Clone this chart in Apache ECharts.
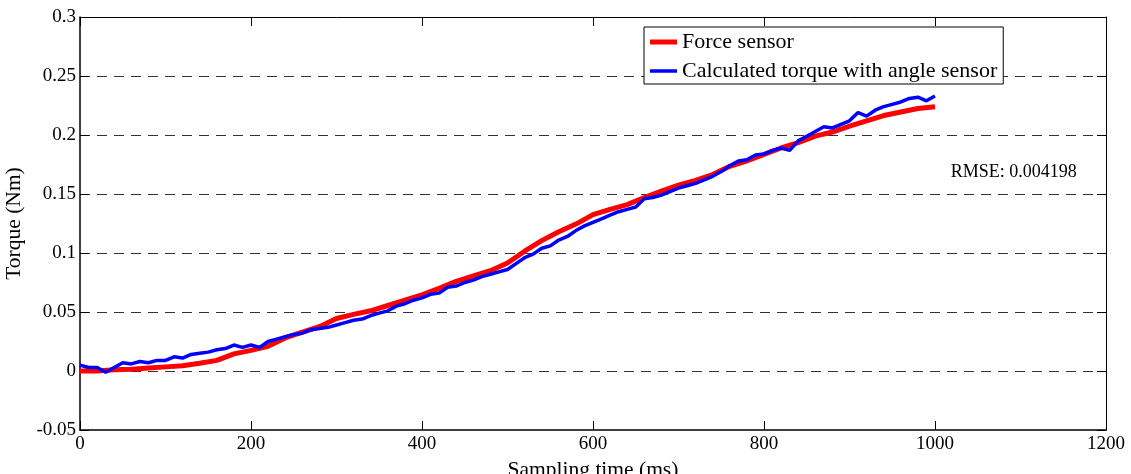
<!DOCTYPE html>
<html>
<head>
<meta charset="utf-8">
<script src="https://cdn.jsdelivr.net/npm/echarts@6/dist/echarts.min.js"></script>
<style>html,body{margin:0;padding:0;background:#fff}#c{width:1131px;height:474px}</style>
</head>
<body>
<div id="c"></div>
<script>
// ---- data ----
const forceTime = [0,20,40,60,80,100,120,140,160,180,200,220,240,260,280,300,320,340,360,380,400,420,440,460,480,500,520,540,560,580,600,620,640,660,680,700,720,740,760,780,800,820,840,860,880,900,920,940,960,980,1000];
const forceTorque = [0.000,0.000,0.001,0.0015,0.0025,0.0035,0.0045,0.0065,0.009,0.0145,0.0175,0.021,0.028,0.033,0.0375,0.0445,0.048,0.051,0.0555,0.060,0.0645,0.070,0.076,0.0805,0.085,0.0915,0.1015,0.1105,0.118,0.1245,0.1325,0.137,0.141,0.147,0.1525,0.1575,0.1615,0.1665,0.1735,0.178,0.1835,0.189,0.1935,0.199,0.2025,0.2075,0.212,0.2165,0.2195,0.2225,0.224];
const angleTime = [0,10,20,30,40,50,60,70,80,90,100,110,120,130,140,150,160,170,180,190,200,210,220,230,240,250,260,270,280,290,300,310,320,330,340,350,360,370,380,390,400,410,420,430,440,450,460,470,480,490,500,510,520,530,540,550,560,570,580,590,600,610,620,630,640,650,660,670,680,690,700,710,720,730,740,750,760,770,780,790,800,810,820,830,840,850,860,870,880,890,900,910,920,930,940,950,960,970,980,990,1000];
const angleTorque = [0.005,0.003,0.003,-0.001,0.003,0.007,0.006,0.008,0.007,0.009,0.009,0.012,0.011,0.014,0.015,0.016,0.018,0.019,0.022,0.020,0.022,0.020,0.025,0.027,0.029,0.031,0.032,0.035,0.036,0.037,0.039,0.041,0.043,0.044,0.047,0.049,0.051,0.055,0.057,0.060,0.062,0.065,0.066,0.071,0.072,0.075,0.077,0.080,0.082,0.084,0.086,0.091,0.096,0.099,0.104,0.106,0.111,0.114,0.119,0.123,0.126,0.129,0.132,0.135,0.137,0.139,0.146,0.147,0.149,0.152,0.155,0.157,0.159,0.162,0.165,0.169,0.174,0.178,0.179,0.183,0.184,0.187,0.189,0.187,0.195,0.199,0.203,0.207,0.206,0.209,0.212,0.219,0.216,0.221,0.224,0.226,0.228,0.231,0.232,0.229,0.233];
const xTicks = [0,200,400,600,800,1000,1200];
const yTicks = [-0.05,0,0.05,0.1,0.15,0.2,0.25,0.3];
const seriesNames = ['Force sensor','Calculated torque with angle sensor'];
const rmseText = 'RMSE: 0.004198';
const rmseAt = [1092, 0.168];

const FONT = "'Liberation Serif','Times New Roman',serif";
const pair = (xs, ys) => xs.map((x, i) => [x, ys[i]]);
const chart = echarts.init(document.getElementById('c'), null, {renderer:'canvas'});

const baseAxisX = {
  type:'value', min:xTicks[0], max:xTicks[xTicks.length-1], interval:xTicks[1]-xTicks[0],
  axisTick:{show:true, inside:true, length:9, lineStyle:{color:'#000', width:1}},
  splitLine:{show:false}
};
const baseAxisY = {
  type:'value', min:yTicks[0], max:yTicks[yTicks.length-1], interval:0.05,
  axisTick:{show:true, inside:true, length:9, lineStyle:{color:'#000', width:1}}
};

chart.setOption({
  animation:false,
  backgroundColor:'#fff',
  grid:{left:80, right:25, top:17, bottom:44, containLabel:false, outerBoundsMode:'none'},
  legend:{
    orient:'vertical', left:644, top:27,
    backgroundColor:'#fff', borderColor:'#000', borderWidth:1, borderRadius:0,
    padding:[4,6,2,6], itemGap:7, itemWidth:27, itemHeight:14,
    textStyle:{fontFamily:FONT, fontSize:22, color:'#000'},
    data:[
      {name:seriesNames[0], icon:'path://M0,0 L27,0 L27,5 L0,5 Z', itemStyle:{color:'#ff0000'}},
      {name:seriesNames[1], icon:'path://M0,0 L27,0 L27,3.5 L0,3.5 Z', itemStyle:{color:'#0000ff'}}
    ]
  },
  xAxis:[
    Object.assign({}, baseAxisX, {
      position:'bottom', name:'Sampling time (ms)', nameLocation:'middle', nameGap:21,
      nameTextStyle:{fontFamily:FONT, fontSize:21.5, color:'#000'},
      axisLine:{show:true, onZero:false, lineStyle:{color:'#000', width:1.5}},
      axisLabel:{fontFamily:FONT, fontSize:19, color:'#000', margin:5, formatter:v => String(v)}
    }),
    Object.assign({}, baseAxisX, {
      position:'top',
      axisLine:{show:true, onZero:false, lineStyle:{color:'#000', width:1}},
      axisLabel:{show:false}
    })
  ],
  yAxis:[
    Object.assign({}, baseAxisY, {
      position:'left', name:'Torque (Nm)', nameLocation:'middle', nameGap:48,
      nameTextStyle:{fontFamily:FONT, fontSize:21.5, color:'#000'},
      axisLine:{show:true, onZero:false, lineStyle:{color:'#000', width:1.5}},
      axisLabel:{fontFamily:FONT, fontSize:19, color:'#000', margin:4,
        formatter:v => String(parseFloat(v.toFixed(2)))},
      splitLine:{show:true, showMinLine:false, showMaxLine:false,
        lineStyle:{color:'#333', width:1, type:[10,7]}}
    }),
    Object.assign({}, baseAxisY, {
      position:'right',
      axisLine:{show:true, onZero:false, lineStyle:{color:'#000', width:1}},
      axisLabel:{show:false}, splitLine:{show:false}
    })
  ],
  series:[
    {
      name:seriesNames[0], type:'line', xAxisIndex:0, yAxisIndex:0,
      data:pair(forceTime, forceTorque), showSymbol:false, symbol:'none',
      lineStyle:{color:'#ff0000', width:5}, itemStyle:{color:'#ff0000'}, z:2
    },
    {
      name:seriesNames[1], type:'line', xAxisIndex:0, yAxisIndex:0,
      data:pair(angleTime, angleTorque), showSymbol:false, symbol:'none',
      lineStyle:{color:'#0000ff', width:3.5}, itemStyle:{color:'#0000ff'}, z:3,
      markPoint:{
        symbol:'circle', symbolSize:1, silent:true,
        itemStyle:{color:'rgba(0,0,0,0)'},
        data:[{coord:rmseAt, value:rmseText}],
        label:{show:true, formatter:rmseText, fontFamily:FONT, fontSize:18, color:'#000', position:'inside'}
      }
    }
  ]
});
</script>
</body>
</html>
